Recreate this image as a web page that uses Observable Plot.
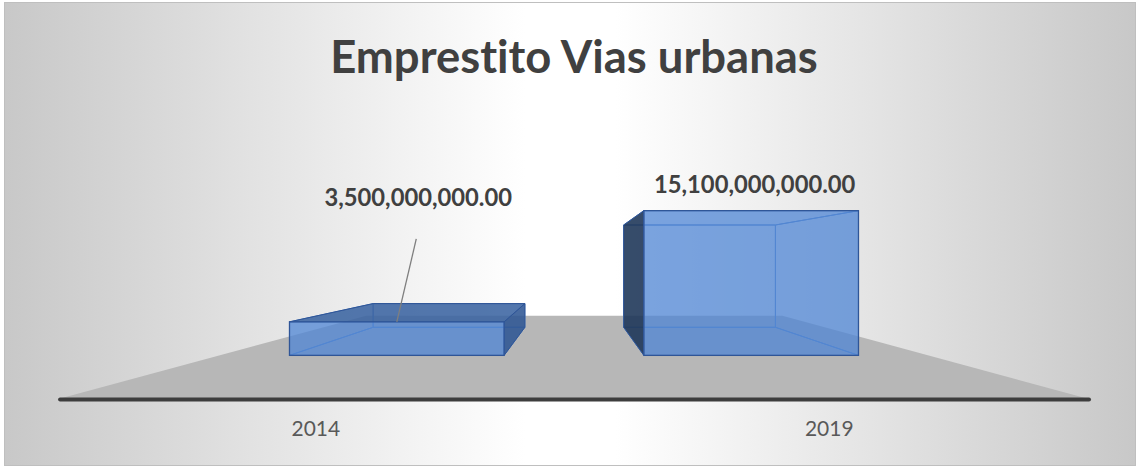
<!DOCTYPE html>
<html><head><meta charset="utf-8">
<script src="https://cdn.jsdelivr.net/npm/d3@7"></script>
<script src="https://cdn.jsdelivr.net/npm/@observablehq/plot@0.6"></script>
<style>
html,body{margin:0;padding:0;background:#fff;}
#frame{position:absolute;left:4px;top:2px;width:1130px;height:462px;border:1px solid #bfbfbf;
  background:linear-gradient(to right,#c8c8c8 0%,#ffffff 46%,#ffffff 54%,#c8c8c8 100%);}
#chart{position:absolute;left:-5px;top:-3px;}
#chart svg{overflow:visible;background:transparent;font-variant-ligatures:none;}
#chart text{font-variant-ligatures:none;}
</style></head><body>
<div id="frame"><div id="chart"></div></div>
<script>
const title = "Emprestito Vias urbanas";
const years = ["2014", "2019"];
const values = [3500000000, 15100000000];
const valueLabels = ["3,500,000,000.00", "15,100,000,000.00"];
const data = years.map((year, i) => ({year, value: values[i], label: valueLabels[i]}));

// perspective (style constants)
const VP = [576, 260];
const BACK = 0.707;
const FLOOR_FRONT = 1.449, FLOOR_BACK = 0.587;
const FONT = "Lato, 'Open Sans', sans-serif";
const proj = ([x, y], k) => [VP[0] + k * (x - VP[0]), VP[1] + k * (y - VP[1])];
const pts = (arr) => arr.map(p => p.join(",")).join(" ");

function geom(scales) {
  const {x, y} = scales;
  const bw = x.bandwidth();
  const step = x(years[1]) - x(years[0]);
  return {x, y, bw, step};
}

function scene(index, scales) {
  const {x, y, bw, step} = geom(scales);
  const g = d3.create("svg:g");
  const yb = y(0);
  const x0 = x(years[0]) + bw / 2 - step / 2;
  const x1 = x(years[years.length - 1]) + bw / 2 + step / 2;
  const fl = [proj([x0, yb], FLOOR_FRONT), proj([x1, yb], FLOOR_FRONT), proj([x1, yb], FLOOR_BACK), proj([x0, yb], FLOOR_BACK)];
  g.append("polygon").attr("points", pts(fl)).attr("fill", "#b7b7b7");
  const a = proj([x0, yb], FLOOR_FRONT), b = proj([x1, yb], FLOOR_FRONT);
  g.append("line").attr("x1", a[0]).attr("x2", b[0] + 2).attr("y1", a[1] + 1).attr("y2", b[1] + 1)
    .attr("stroke", "#3d3d3d").attr("stroke-width", 4).attr("stroke-linecap", "round");
  for (const d of data) {
    const l = x(d.year), r = l + bw, t = y(d.value), bt = y(0);
    const F = {lt: [l, t], rt: [r, t], rb: [r, bt], lb: [l, bt]};
    const B = {lt: proj(F.lt, BACK), rt: proj(F.rt, BACK), rb: proj(F.rb, BACK), lb: proj(F.lb, BACK)};
    const leftSide = (l + r) / 2 > VP[0];
    const face = (p, fill, op, stroke) => g.append("polygon").attr("points", pts(p))
      .attr("fill", fill).attr("fill-opacity", op).attr("stroke", stroke).attr("stroke-width", 1).attr("stroke-linejoin", "round");
    face([B.lt, B.rt, B.rb, B.lb], "#4472c4", 0.15, "#5a86c8");
    face([F.lb, F.rb, B.rb, B.lb], "#4472c4", 0.15, "#5a86c8");
    if (leftSide) {
      face([F.rt, B.rt, B.rb, F.rb], "#4472c4", 0.15, "#5a86c8");
      face([F.lt, F.rt, B.rt, B.lt], "#4472c4", 0.15, "#5a86c8");
      face([F.lt, B.lt, B.lb, F.lb], "#1e3556", 0.88, "#2f5597");
    } else {
      face([F.lt, B.lt, B.lb, F.lb], "#4472c4", 0.15, "#5a86c8");
      face([F.rt, B.rt, B.rb, F.rb], "#2d5592", 0.85, "#2f5597");
      face([F.lt, F.rt, B.rt, B.lt], "#3a63a0", 0.85, "#2f5597");
    }
  }
  return g.node();
}

function overlay(index, scales) {
  const {x, y, bw} = geom(scales);
  const g = d3.create("svg:g");
  // leader line for the first label
  const d = data[0];
  const cx = x(d.year) + bw / 2, cy = y(d.value);
  g.append("line").attr("x1", cx).attr("y1", cy).attr("x2", cx + 19.5).attr("y2", cy - 83)
    .attr("stroke", "#7f7f7f").attr("stroke-width", 1.3);
  // category labels on the floor front edge
  for (const e of data) {
    const p = proj([x(e.year) + bw / 2, y(0)], FLOOR_FRONT);
    g.append("text").attr("x", p[0] - 1).attr("y", 437).attr("text-anchor", "middle")
      .attr("font-family", FONT).attr("font-size", 21).attr("fill", "#595959").text(e.year);
  }
  return g.node();
}

const chart = Plot.plot({
  width: 1137,
  height: 468,
  margin: 0,
  style: {background: "transparent", fontFamily: FONT},
  x: {type: "band", domain: years, range: [290, 860.5], paddingInner: 0.393, paddingOuter: 0, axis: null},
  y: {domain: [0, 16e9], range: [356, 202.4], axis: null},
  marks: [
    scene,
    Plot.barY(data, {x: "year", y: "value", fill: "#4e86d6", fillOpacity: 0.7, stroke: "#2f5597", strokeWidth: 1.3}),
    overlay,
    Plot.text(data, {filter: d => d.year === "2014", x: "year", y: "value", text: "label", dx: 21, dy: -117, lineAnchor: "bottom",
      fontSize: 23.8, fontWeight: "bold", fill: "#404040", fontFamily: FONT}),
    Plot.text(data, {filter: d => d.year === "2019", x: "year", y: "value", text: "label", dx: 3, dy: -18, lineAnchor: "bottom",
      fontSize: 23.8, fontWeight: "bold", fill: "#404040", fontFamily: FONT}),
    Plot.text([title], {frameAnchor: "top", dx: 6, dy: 73, lineAnchor: "bottom", fontSize: 45.5, fontWeight: "bold",
      fill: "#404040", fontFamily: FONT})
  ]
});
document.getElementById("chart").appendChild(chart);
</script>
</body></html>
